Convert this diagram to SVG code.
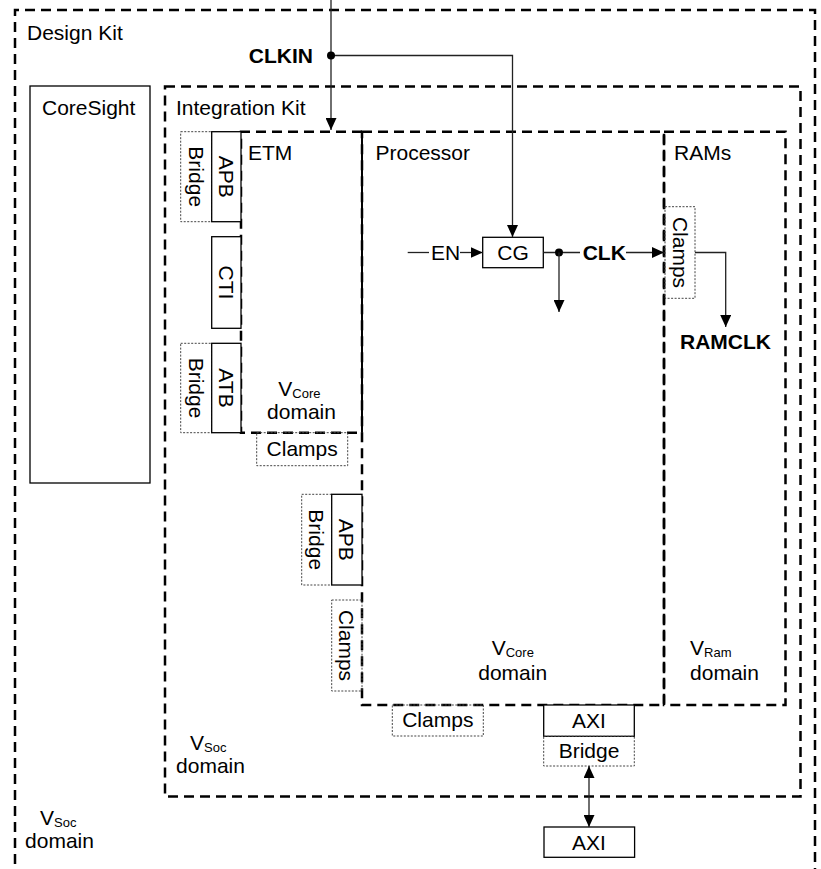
<svg xmlns="http://www.w3.org/2000/svg" width="821" height="869" viewBox="0 0 821 869">
<style>
.dash{fill:none;stroke:#000;stroke-width:2.5;stroke-dasharray:10 6}
.solid{fill:#fff;stroke:#000;stroke-width:1.3}
.sline{fill:none;stroke:#000;stroke-width:2}
.dot{fill:none;stroke:#444;stroke-width:1;stroke-dasharray:2 1.5}
.wire{fill:none;stroke:#222;stroke-width:1.3}
text{font-family:"Liberation Sans",Arial,sans-serif;font-size:21px;fill:#000}
.b{font-weight:bold}
.m{text-anchor:middle}
.sub{font-size:13px}
</style>
<defs>
<marker id="ah" markerUnits="userSpaceOnUse" markerWidth="12" markerHeight="11" refX="12" refY="5.5" orient="auto-start-reverse">
<path d="M0,0 L12,5.5 L0,11 z" fill="#000"/>
</marker>
</defs>
<rect width="821" height="869" fill="#fff"/>

<g id="design-kit">
<path class="dash" d="M15,880 V10 H815 V880"/>
<text x="27" y="40">Design Kit</text>
<text x="40" y="825">V<tspan class="sub" dy="2">Soc</tspan></text>
<text x="59.5" y="848" class="m">domain</text>
</g>

<g id="coresight">
<rect class="solid" x="30" y="86" width="120" height="397"/>
<text x="42" y="115">CoreSight</text>
</g>

<g id="integration-kit">
<rect class="dash" x="165" y="86.5" width="635.5" height="710"/>
<text x="176" y="115">Integration Kit</text>
<text x="190" y="750">V<tspan class="sub" dy="2">Soc</tspan></text>
<text x="210.5" y="773" class="m">domain</text>
</g>

<g id="processor">
<rect class="dash" x="362" y="131.7" width="302" height="573.3"/>
<text x="375.5" y="160">Processor</text>
<text x="491.7" y="655">V<tspan class="sub" dy="2">Core</tspan></text>
<text x="512.7" y="680" class="m">domain</text>
</g>

<g id="rams">
<rect class="dash" x="664" y="131.7" width="121.5" height="573.3"/>
<text x="674" y="160">RAMs</text>
<text x="690" y="655">V<tspan class="sub" dy="2">Ram</tspan></text>
<text x="724.5" y="680" class="m">domain</text>
</g>

<g id="etm">
<path class="dash" d="M362,131.7 H241 V432.7 H362"/>
<path class="sline" d="M362,131.7 V432.7"/>
<text x="248" y="160">ETM</text>
<text x="278.3" y="396">V<tspan class="sub" dy="2">Core</tspan></text>
<text x="301.5" y="419" class="m">domain</text>
</g>

<g id="etm-apb-bridge">
<rect class="dot" x="180.7" y="131.7" width="31" height="90"/>
<rect class="solid" x="211.7" y="131.7" width="29.3" height="90"/>
<text class="m" transform="translate(226.3,176.7) rotate(90)" y="7.5">APB</text>
<text class="m" transform="translate(196.2,176.7) rotate(90)" y="7.5">Bridge</text>
</g>

<g id="etm-cti">
<rect class="solid" x="211.7" y="236.7" width="29.3" height="91.6"/>
<text class="m" transform="translate(226.3,282.5) rotate(90)" y="7.5">CTI</text>
</g>

<g id="etm-atb-bridge">
<rect class="dot" x="180.7" y="343.3" width="31" height="89.4"/>
<rect class="solid" x="211.7" y="343.3" width="29.3" height="89.4"/>
<text class="m" transform="translate(226.3,388) rotate(90)" y="7.5">ATB</text>
<text class="m" transform="translate(196.2,388) rotate(90)" y="7.5">Bridge</text>
</g>

<g id="etm-clamps">
<rect class="dot" x="256.7" y="432.7" width="91" height="33"/>
<text x="302.2" y="456" class="m">Clamps</text>
</g>

<g id="proc-apb-bridge">
<rect class="dot" x="301.7" y="494.3" width="30" height="90.7"/>
<rect class="solid" x="331.7" y="494.3" width="30.3" height="90.7"/>
<text class="m" transform="translate(346.8,539.7) rotate(90)" y="7.5">APB</text>
<text class="m" transform="translate(316.7,539.7) rotate(90)" y="7.5">Bridge</text>
</g>

<g id="proc-clamps-side">
<rect class="dot" x="331.7" y="600" width="30.3" height="91"/>
<text class="m" transform="translate(346.8,645.5) rotate(90)" y="7.5">Clamps</text>
</g>

<g id="proc-clamps-bottom">
<rect class="dot" x="392.3" y="705" width="91" height="31"/>
<text x="437.8" y="727" class="m">Clamps</text>
</g>

<g id="axi-bridge">
<rect class="solid" x="543.7" y="705" width="90.6" height="31.3"/>
<text x="589" y="728" class="m">AXI</text>
<rect class="dot" x="543.7" y="736.3" width="90.6" height="29.7"/>
<text x="589" y="758" class="m">Bridge</text>
</g>

<g id="axi">
<rect class="solid" x="544" y="827" width="90.6" height="30.3"/>
<text x="589" y="850" class="m">AXI</text>
</g>

<g id="ram-clamps">
<rect class="dot" x="665" y="206.7" width="30" height="91.6"/>
<text class="m" transform="translate(680,252.5) rotate(90)" y="7.5">Clamps</text>
</g>

<g id="cg">
<rect class="solid" x="482.7" y="237.3" width="60.6" height="30.4"/>
<text x="513" y="260" class="m">CG</text>
</g>

<g id="labels">
<text x="313" y="63" class="b" text-anchor="end">CLKIN</text>
<text x="431" y="260">EN</text>
<text x="582.7" y="259.5" class="b">CLK</text>
<text x="680" y="349" class="b">RAMCLK</text>
</g>

<g id="connectors">
<path class="wire" d="M331,0 V130" marker-end="url(#ah)"/>
<path class="wire" d="M331,55.5 H512.5 V237" marker-end="url(#ah)"/>
<circle cx="331" cy="55.5" r="4" fill="#000"/>
<path class="wire" d="M407.7,252.5 H429"/>
<path class="wire" d="M460,252.5 H482.7" marker-end="url(#ah)"/>
<path class="wire" d="M543.3,252.5 H580"/>
<circle cx="559" cy="252.5" r="4" fill="#000"/>
<path class="wire" d="M559,252.5 V312" marker-end="url(#ah)"/>
<path class="wire" d="M626,252.5 H664" marker-end="url(#ah)"/>
<path class="wire" d="M695,252.5 H725.7 V327" marker-end="url(#ah)"/>
<path class="wire" d="M589,766 V827" marker-start="url(#ah)" marker-end="url(#ah)"/>
</g>
</svg>
